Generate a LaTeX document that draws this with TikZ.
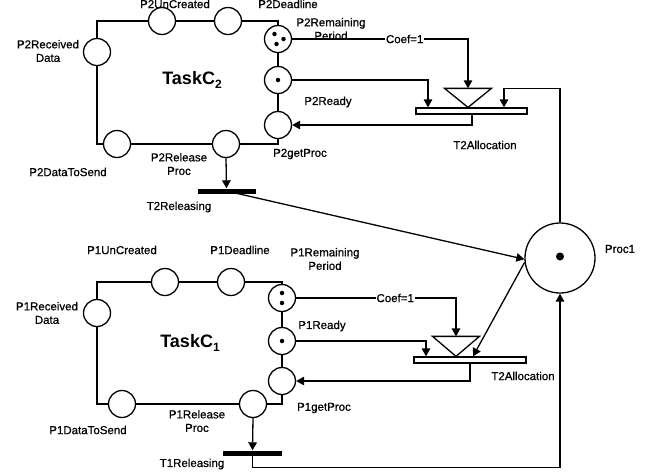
\documentclass[tikz,border=0pt]{standalone}
\usepackage{fontspec}
\setmainfont{Liberation Sans}
\newfontfamily\lblfont{Liberation Sans}[FakeBold=0.7]
\usetikzlibrary{arrows.meta}
\begin{document}
\begin{tikzpicture}[x=1pt,y=-1pt,
  every node/.style={font=\lblfont\fontsize{11.5}{13.5}\selectfont},
  place/.style={circle,draw,line width=1.3pt,minimum size=27pt,inner sep=0pt},
  token/.style={circle,fill,inner sep=0pt,minimum size=4.5pt},
  arc/.style={line width=1.3pt},
  arr/.style={arc,-{Triangle[length=8pt,width=8.5pt]}},
  lbl/.style={align=center,inner sep=0pt},
  coef/.style={fill=white,inner sep=1pt},
  alloc/.style={draw,fill=white,line width=1.3pt,minimum height=6pt,inner sep=0pt},
  relbar/.style={fill,minimum height=5pt,inner sep=0pt},
  taskname/.style={font=\fontsize{18}{18}\selectfont\bfseries}
]
\useasboundingbox (0,0) rectangle (657,475);

% ---------------- Task C2 ----------------
\node[place] (p2unc)   at (162,21)  {};
\node[place] (p2dl)    at (228,21)  {};
\node[place] (p2rp)    at (278,39)  {};
\node[place] (p2ready) at (278,80)  {};
\node[place] (p2get)   at (278,125) {};
\node[place] (p2rel)   at (226,144) {};
\node[place] (p2dts)   at (117,144) {};
\node[place] (p2rd)    at (97,52)   {};

\node[token] at ([shift={(-3.5pt,5pt)}]p2rp.center) {};
\node[token] at ([shift={(5.5pt,0pt)}]p2rp.center) {};
\node[token] at ([shift={(-1.5pt,-5pt)}]p2rp.center) {};
\node[token] at (p2ready.center) {};

\draw[arc] (p2rd.north) |- (p2unc.west);
\draw[arc] (p2unc) -- (p2dl);
\draw[arc] (p2dl.east) -| (p2rp.north);
\draw[arc] (p2rp) -- (p2ready);
\draw[arc] (p2ready) -- (p2get);
\draw[arc] (p2get.south) |- (p2rel.east);
\draw[arc] (p2rel) -- (p2dts);
\draw[arc] (p2dts.west) -| (p2rd.south);

\node[relbar,minimum width=58pt] (t2rel) at (226.5,191) {};
\node[alloc,minimum width=111pt] (t2alloc) at (471.5,111) {};
\draw[arc,fill=white] ([xshift=-3.5pt]t2alloc.north) coordinate (t2apex)
  -- ++(-23.5,-19) -- ++(47,0) -- cycle;
\coordinate (t2in) at ([yshift=19pt]t2apex);

\node[taskname] (task2) at (192,80) {TaskC\raisebox{-0.35ex}{\fontsize{12}{12}\selectfont 2}};

% ---------------- Task C1 ----------------
\node[place] (p1unc)   at (165,282) {};
\node[place] (p1dl)    at (231,282) {};
\node[place] (p1rp)    at (282,298) {};
\node[place] (p1ready) at (282,341) {};
\node[place] (p1get)   at (282,381) {};
\node[place] (p1rel)   at (253,404) {};
\node[place] (p1dts)   at (122,404) {};
\node[place] (p1rd)    at (97,313)  {};

\node[token] at ([yshift=5pt]p1rp.center) {};
\node[token] at ([yshift=-5pt]p1rp.center) {};
\node[token] at (p1ready.center) {};

\draw[arc] (p1rd.north) |- (p1unc.west);
\draw[arc] (p1unc) -- (p1dl);
\draw[arc] (p1dl.east) -| (p1rp.north);
\draw[arc] (p1rp) -- (p1ready);
\draw[arc] (p1ready) -- (p1get);
\draw[arc] (p1get.south) |- (p1rel.east);
\draw[arc] (p1rel) -- (p1dts);
\draw[arc] (p1dts.west) -| (p1rd.south);

\node[relbar,minimum width=59pt] (t1rel) at (252.5,453) {};
\node[alloc,minimum width=112pt] (t1alloc) at (470,360) {};
\draw[arc,fill=white] ([xshift=-14pt]t1alloc.north) coordinate (t1apex)
  -- ++(-23.5,-20) -- ++(47,0) -- cycle;
\coordinate (t1in) at ([yshift=20pt]t1apex);

\node[taskname] (task1) at (190,343) {TaskC\raisebox{-0.35ex}{\fontsize{12}{12}\selectfont 1}};

% ---------------- shared processor ----------------
\node[place,minimum size=70pt] (proc1) at (560,258) {};
\node[token,minimum size=8pt] at ([yshift=1.5pt]proc1.center) {};

% ---------------- arcs of task C2 ----------------
\draw[arr] (p2rp.east) -| (t2in) node[coef,pos=0.32] (c2) {Coef=1};
\draw[arr] (p2ready.east) -| ([xshift=-43.5pt]t2alloc.north);
\draw[arr] ([xshift=0.5pt]t2alloc.south) |- (p2get.east);
\draw[arr] (proc1.north) |- ([xshift=32.5pt,yshift=19pt]t2alloc.north)
  -- ([xshift=32.5pt]t2alloc.north);
\draw[arr] (p2rel.south) -- (t2rel.north);
\draw[arr] (t2rel.center) -- (proc1.182);

% ---------------- arcs of task C1 ----------------
\draw[arr] (p1rp.east) -| (t1in) node[coef,pos=0.31] (c1) {Coef=1};
\draw[arr] (p1ready.east) -| ([xshift=-44pt]t1alloc.north);
\draw[arr] (t1alloc.south) |- (p1get.east);
\draw[arr] (proc1.187) -- ([xshift=3pt]t1alloc.north);
\draw[arr] (p1rel.south) -- (t1rel.north);
\draw[arr] (t1rel.center) |- ([yshift=-174pt]proc1.south) -- (proc1.south);

% ---------------- labels ----------------
\node[lbl] (l2unc)   at (175,4)   {P2UnCreated};
\node[lbl] (l2dl)    at (288,4)   {P2Deadline};
\node[lbl] (l2rp)    at (331,29)  {P2Remaining\\Period};
\node[lbl] (l2rd)    at (48,51)   {P2Received\\Data};
\node[lbl] (l2ready) at (328,102) {P2Ready};
\node[lbl] (l2get)   at (300,154) {P2getProc};
\node[lbl] (l2dts)   at (68,172)  {P2DataToSend};
\node[lbl] (l2rel)   at (179,164) {P2Release\\Proc};
\node[lbl] (l2trel)  at (179,207) {T2Releasing};
\node[lbl] (l2alloc) at (485,145) {T2Allocation};
\node[lbl] (lproc)   at (620,249) {Proc1};

\node[lbl] (l1unc)   at (122,250) {P1UnCreated};
\node[lbl] (l1dl)    at (240,250) {P1Deadline};
\node[lbl] (l1rp)    at (325,259) {P1Remaining\\Period};
\node[lbl] (l1rd)    at (47,313)  {P1Received\\Data};
\node[lbl] (l1ready) at (322,326) {P1Ready};
\node[lbl] (l1get)   at (324,408) {P1getProc};
\node[lbl] (l1dts)   at (88,430)  {P1DataToSend};
\node[lbl] (l1rel)   at (197,421) {P1Release\\Proc};
\node[lbl] (l1trel)  at (192,464) {T1Releasing};
\node[lbl] (l1alloc) at (523,376) {T2Allocation};
\end{tikzpicture}
\end{document}
